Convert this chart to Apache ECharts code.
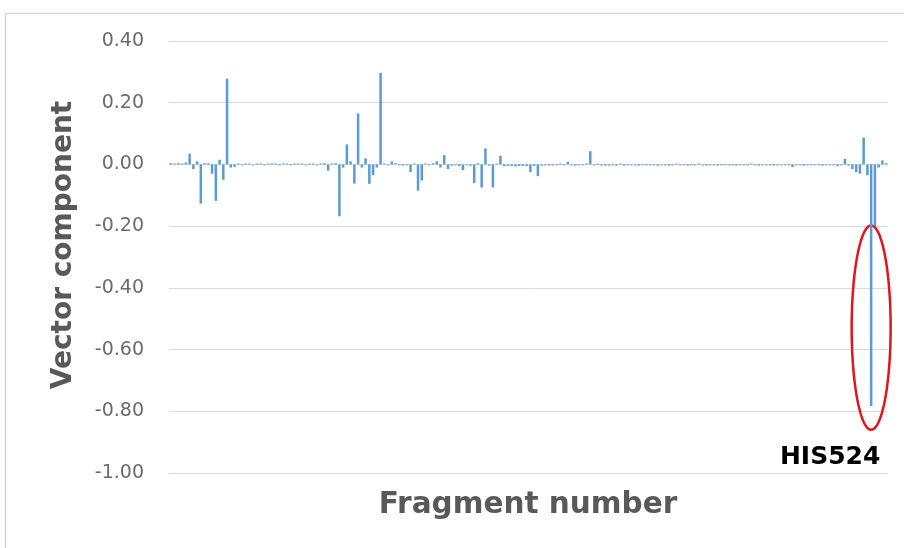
<!DOCTYPE html>
<html>
<head>
<meta charset="utf-8">
<script src="https://cdn.jsdelivr.net/npm/echarts@6/dist/echarts.min.js"></script>
<style>
  html, body { margin: 0; padding: 0; background: #ffffff; }
  #chart { width: 904px; height: 548px; }
</style>
</head>
<body>
<div id="chart"></div>
<script>
// Fragment numbers along the x axis (labels are hidden on the axis)
const fragmentCount = 192;
const fragments = Array.from({ length: fragmentCount }, (_, i) => String(i + 1));

// Vector component per fragment
const vectorComponent = [
  0.004, 0.003, 0.004, 0.003, 0.006, 0.035, -0.015, 0.010, -0.127, 0.004, 0.004, -0.030,
  -0.118, 0.015, -0.050, 0.278, -0.010, -0.008, 0.003, -0.003, 0.003, 0.003, -0.003, 0.003,
  0.003, -0.003, 0.003, 0.003, 0.003, -0.003, 0.003, 0.003, -0.003, 0.003, 0.003, 0.003,
  -0.003, 0.003, 0.003, -0.003, 0.003, 0.004, -0.020, 0.003, 0.004, -0.168, -0.010, 0.065,
  0.010, -0.062, 0.165, -0.010, 0.020, -0.063, -0.035, -0.010, 0.297, 0.003, -0.003, 0.010,
  0.004, -0.003, -0.004, -0.003, -0.025, 0.003, -0.085, -0.052, 0.003, -0.003, 0.004, 0.010,
  -0.010, 0.030, -0.015, -0.004, -0.003, -0.005, -0.018, -0.003, -0.004, -0.060, 0.004, -0.075,
  0.052, -0.004, -0.075, 0.003, 0.028, -0.006, -0.005, -0.005, -0.006, -0.005, -0.005, -0.005,
  -0.025, -0.005, -0.038, -0.004, -0.003, -0.004, -0.003, -0.003, 0.003, -0.003, 0.008, -0.003,
  -0.004, -0.003, -0.003, 0.003, 0.043, -0.003, 0.003, -0.004, -0.004, -0.004, -0.003, -0.004,
  0.003, -0.004, -0.003, -0.003, -0.003, -0.004, -0.003, -0.003, -0.003, -0.003, -0.004, -0.003,
  -0.003, -0.004, -0.003, 0.003, -0.003, -0.003, -0.004, -0.003, -0.003, 0.003, -0.003, -0.004,
  -0.003, -0.003, -0.004, -0.003, -0.003, -0.003, -0.003, -0.004, -0.003, -0.003, -0.003, 0.003,
  -0.003, -0.004, -0.003, -0.003, -0.003, -0.004, -0.003, -0.003, -0.003, -0.003, -0.008, -0.003,
  -0.003, -0.004, -0.003, -0.003, -0.003, -0.003, -0.004, -0.003, -0.003, -0.003, -0.005, -0.003,
  0.018, -0.004, -0.015, -0.025, -0.030, 0.087, -0.035, -0.783, -0.200, -0.010, 0.013, 0.004
];

// Value axis range and step
const yMin = -1.0;
const yMax = 0.4;
const yStep = 0.2;

// Highlighted residue and the value span circled around it
const highlightName = 'HIS524';
const highlightIndex = 187;
const highlightSpan = [-0.198, -0.86];

(function () {
  const chart = echarts.init(document.getElementById('chart'), null, { renderer: 'canvas' });

  function fmtTick(v) {
    const r = Math.round(v * 100) / 100;
    return Math.abs(r) < 1e-9 ? '0.00' : r.toFixed(2);
  }

  const frame = {
    type: 'rect',
    silent: true,
    shape: { x: 5.5, y: 13.5, width: 930, height: 580 },
    style: { fill: null, stroke: '#d6d6d6', lineWidth: 1.5 }
  };
  const yTitle = {
    type: 'text',
    x: 64, y: 245,
    rotation: Math.PI / 2,
    style: {
      text: 'Vector component',
      font: 'bold 28px "DejaVu Sans"',
      fill: '#595959',
      align: 'center', verticalAlign: 'middle'
    }
  };
  const xTitle = {
    type: 'text',
    x: 528, y: 505,
    style: {
      text: 'Fragment number',
      font: 'bold 29.5px "DejaVu Sans"',
      fill: '#595959',
      align: 'center', verticalAlign: 'middle'
    }
  };

  chart.setOption({
    animation: false,
    backgroundColor: '#ffffff',
    grid: { left: 169, right: 16, top: 41, bottom: 75, containLabel: false },
    xAxis: {
      type: 'category',
      data: fragments,
      axisLine: { show: false, onZero: false },
      axisTick: { show: false },
      axisLabel: { show: false },
      splitLine: { show: false }
    },
    yAxis: {
      type: 'value',
      min: yMin,
      max: yMax,
      interval: yStep,
      axisLine: { show: false },
      axisTick: { show: false },
      axisLabel: {
        formatter: fmtTick,
        color: '#6b6b6b',
        fontFamily: 'DejaVu Sans',
        fontSize: 19,
        margin: 25
      },
      splitLine: { lineStyle: { color: '#d9d9d9', width: 1 } }
    },
    series: [{
      type: 'bar',
      data: vectorComponent,
      barWidth: 2.5,
      itemStyle: { color: '#5b9bd5' }
    }],
    graphic: [frame, yTitle, xTitle]
  });

  // Red ellipse around the highlighted bar, with the residue label beneath
  const pTop = chart.convertToPixel({ xAxisIndex: 0, yAxisIndex: 0 }, [highlightIndex, highlightSpan[0]]);
  const pBottom = chart.convertToPixel({ xAxisIndex: 0, yAxisIndex: 0 }, [highlightIndex, highlightSpan[1]]);
  const cx = pTop[0];
  const cy = (pTop[1] + pBottom[1]) / 2;
  const ry = (pBottom[1] - pTop[1]) / 2;
  const rx = 19.5;
  const ring = [];
  for (let k = 0; k < 96; k++) {
    const a = (k / 96) * Math.PI * 2;
    ring.push([cx + rx * Math.cos(a), cy + ry * Math.sin(a)]);
  }

  chart.setOption({
    graphic: [
      frame, yTitle, xTitle,
      {
        type: 'polygon',
        silent: true,
        shape: { points: ring },
        style: { fill: null, stroke: '#e3141b', lineWidth: 2.5 }
      },
      {
        type: 'text',
        x: cx - 41, y: pBottom[1] + 28,
        style: {
          text: highlightName,
          font: 'bold 25px "DejaVu Sans"',
          fill: '#000000',
          align: 'center', verticalAlign: 'middle'
        }
      }
    ]
  }, { replaceMerge: ['graphic'] });
})();
</script>
</body>
</html>
